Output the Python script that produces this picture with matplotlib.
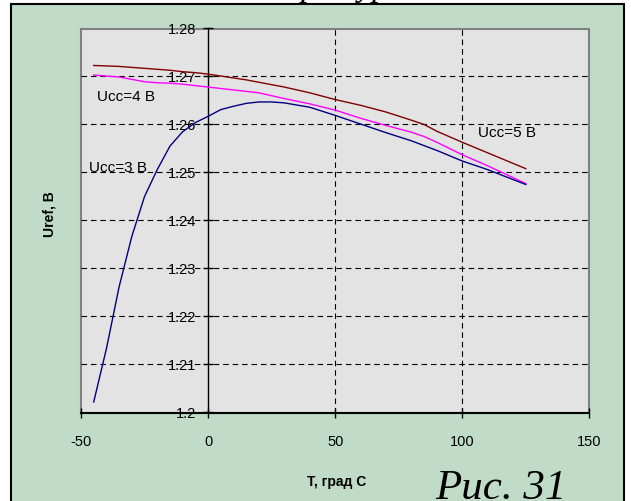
import matplotlib
matplotlib.use("Agg")
import matplotlib.pyplot as plt
from matplotlib.patches import Rectangle

# temperature points, grad C
temp = [-45, -40, -35, -30, -25, -20, -15, -10, -5, 0, 5, 10, 15, 20, 25,
        30, 40, 50, 60, 70, 80, 85, 90, 100, 110, 125]

# Uref, V for three supply voltages
uref_3v = [1.2022, 1.2133, 1.2262, 1.2367, 1.2450, 1.2506, 1.2555, 1.2585,
           1.2604, 1.2617, 1.2631, 1.2638, 1.2644, 1.2647, 1.2647, 1.2645,
           1.2636, 1.2619, 1.2601, 1.2583, 1.2566, 1.2556, 1.2546, 1.2524,
           1.2506, 1.2475]
uref_4v = [1.2703, 1.2701, 1.2699, 1.2694, 1.2689, 1.2687, 1.2686, 1.2684,
           1.2681, 1.2678, 1.2675, 1.2672, 1.2669, 1.2666, 1.2660, 1.2654,
           1.2643, 1.2630, 1.2613, 1.2598, 1.2584, 1.2575, 1.2563, 1.2537,
           1.2514, 1.2477]
uref_5v = [1.2723, 1.2722, 1.2721, 1.2719, 1.2717, 1.2715, 1.2713, 1.2710,
           1.2708, 1.2705, 1.2701, 1.2697, 1.2693, 1.2688, 1.2683, 1.2678,
           1.2666, 1.2652, 1.2640, 1.2626, 1.2609, 1.2600, 1.2586, 1.2563,
           1.2541, 1.2508]

x_ticks = [-50, 0, 50, 100, 150]
y_ticks = [1.20, 1.21, 1.22, 1.23, 1.24, 1.25, 1.26, 1.27, 1.28]
y_labels = ['1.2', '1.21', '1.22', '1.23', '1.24', '1.25', '1.26', '1.27', '1.28']

W, H = 631, 501
green = '#c0dcc8'
plot_grey = '#e3e3e3'

plt.rcParams['font.family'] = ['Liberation Sans', 'DejaVu Sans']

fig = plt.figure(figsize=(W / 100, H / 100), dpi=100)
fig.patch.set_facecolor('white')

# green chart area with black frame
fig.patches.append(Rectangle((11 / W, -0.05), (624 - 11) / W, 1.05 - 4 / H,
                             transform=fig.transFigure, facecolor=green,
                             edgecolor='black', linewidth=1.5, zorder=-10))

# title cut off at the top of the page, only descenders show
fig.text(412 / W, 1 + 4 / H, 'от температуры', ha='right',
         va='baseline', fontsize=24, style='italic',
         family=['Liberation Serif', 'DejaVu Serif'], zorder=-15)

ax = fig.add_axes([81 / W, 1 - 412.5 / H, (589.3 - 81) / W, (412.5 - 28.5) / H])
ax.set_facecolor(plot_grey)
ax.set_xlim(-50, 150)
ax.set_ylim(1.2, 1.28)

# plot area border
ax.add_patch(Rectangle((0, 0), 1, 1, transform=ax.transAxes, fill=False,
                       edgecolor='#808080', linewidth=1.5, clip_on=False, zorder=1))

for s in ['top', 'right']:
    ax.spines[s].set_visible(False)
ax.spines['left'].set_position(('data', 0))
ax.spines['left'].set_color('black')
ax.spines['left'].set_linewidth(1.0)
ax.spines['bottom'].set_color('black')
ax.spines['bottom'].set_linewidth(1.5)
ax.spines['left'].set_zorder(3)
ax.spines['bottom'].set_zorder(3)

# dashed grid
for yv in y_ticks[1:-1]:
    ax.axhline(yv, color='black', linewidth=0.8, dashes=(5, 3.5), zorder=1)
for xv in [50, 100]:
    ax.axvline(xv, color='black', linewidth=0.8, dashes=(5, 3.5), zorder=1)

ax.set_xticks(x_ticks)
ax.set_xticklabels([str(v) for v in x_ticks])
ax.set_yticks(y_ticks)
ax.set_yticklabels(y_labels)
ax.tick_params(axis='x', direction='inout', length=7, width=1, pad=13,
               labelsize=10.5)
ax.tick_params(axis='y', direction='inout', length=7, width=1, pad=5,
               labelsize=10.5)

ax.plot(temp, uref_5v, color='#800000', linewidth=1.0, zorder=4)
ax.plot(temp, uref_4v, color='#ff00ff', linewidth=1.0, zorder=4)
ax.plot(temp, uref_3v, color='#000080', linewidth=1.0, zorder=4)

ax.text(-43.9, 1.2657, 'Ucc=4 В', fontsize=11, va='center', ha='left', zorder=5)
ax.text(-46.9, 1.2509, 'Ucc=3 В', fontsize=11, va='center', ha='left', zorder=5)
ax.text(106.2, 1.2582, 'Ucc=5 В', fontsize=11, va='center', ha='left', zorder=5)

fig.text(337 / W, 1 - 482 / H, 'T, град С', ha='center', va='center',
         fontsize=10, fontweight='bold')
fig.text(50 / W, 1 - 214 / H, 'Uref, В', ha='center', va='center',
         fontsize=10, fontweight='bold', rotation=90)

fig.text(435 / W, 1 - 499 / H, 'Рис. 31', ha='left', va='baseline',
         fontsize=31, style='italic', family=['Liberation Serif', 'DejaVu Serif'])

fig.savefig('out.png', dpi=100)
